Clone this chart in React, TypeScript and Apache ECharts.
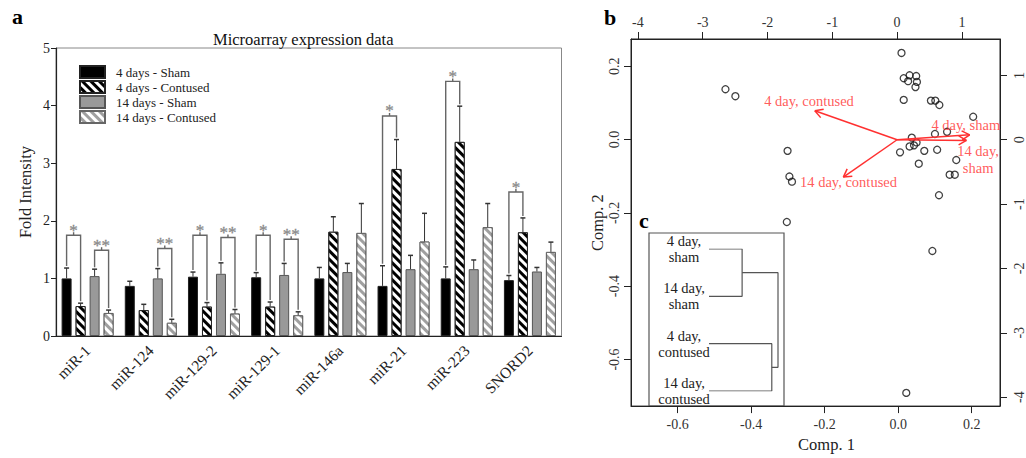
import React, { useEffect, useRef } from 'react';
import * as echarts from 'echarts';

// ---------- Panel a: microarray bars ----------
const categories = ['miR-1', 'miR-124', 'miR-129-2', 'miR-129-1', 'miR-146a', 'miR-21', 'miR-223', 'SNORD2'];
const seriesNames = ['4 days - Sham', '4 days - Contused', '14 days - Sham', '14 days - Contused'];
const sham4 = [1.0, 0.87, 1.03, 1.02, 1.0, 0.87, 1.0, 0.97];
const sham4Err = [1.18, 0.95, 1.11, 1.1, 1.19, 1.22, 1.2, 1.05];
const cont4 = [0.52, 0.45, 0.51, 0.51, 1.81, 2.9, 3.37, 1.8];
const cont4Err = [0.57, 0.55, 0.58, 0.59, 2.07, 3.41, 3.99, 2.05];
const sham14 = [1.04, 1.0, 1.08, 1.06, 1.11, 1.16, 1.16, 1.12];
const sham14Err = [1.16, 1.17, 1.27, 1.26, 1.26, 1.4, 1.32, 1.19];
const cont14 = [0.4, 0.23, 0.39, 0.36, 1.79, 1.64, 1.89, 1.46];
const cont14Err = [0.45, 0.29, 0.46, 0.42, 2.3, 2.13, 2.3, 1.63];
const yTicks = [0, 1, 2, 3, 4, 5];
// significance brackets: category, left bar, right bar, bracket height, label
const sigCat = [0, 0, 1, 2, 2, 3, 3, 5, 6, 7];
const sigLeft = [0, 2, 2, 0, 2, 0, 2, 0, 0, 0];
const sigRight = [1, 3, 3, 1, 3, 1, 3, 1, 1, 1];
const sigHeight = [1.75, 1.49, 1.52, 1.75, 1.71, 1.75, 1.68, 3.82, 4.42, 2.5];
const sigLabel = ['*', '**', '**', '*', '**', '*', '**', '*', '*', '*'];

// ---------- Panel b: PCA biplot ----------
const comp1 = [0.009, 0.015, 0.031, 0.049, 0.027, 0.051, 0.047, 0.015, 0.089, 0.101, 0.112, 0.204, 0.133, 0.1, 0.037, 0.05, 0.031, 0.043, 0.005, 0.071, 0.106, 0.056, 0.158, 0.14, 0.154, 0.111, -0.47, -0.443, -0.301, -0.296, -0.289, -0.303, 0.093, 0.022];
const comp2 = [0.236, 0.167, 0.175, 0.173, 0.159, 0.157, 0.143, 0.108, 0.106, 0.106, 0.094, 0.062, 0.021, 0.015, 0.005, -0.008, -0.019, -0.016, -0.035, -0.031, -0.028, -0.066, -0.056, -0.096, -0.096, -0.152, 0.137, 0.118, -0.031, -0.101, -0.115, -0.225, -0.304, -0.691];
const scoreTicks = [-0.6, -0.4, -0.2, 0.0, 0.2];
const loadingTicks = [-4, -3, -2, -1, 0, 1];
const loadingNames = ['4 day, sham', '14 day,\nsham', '4 day, contused', '14 day, contused'];
const loadX = [1.12, 1.07, -1.27, -0.83];
const loadY = [0.076, -0.01, 0.45, -0.58];
const loadLabelX = [1.06, 1.25, -1.36, -0.75];
const loadLabelY = [0.23, -0.31, 0.61, -0.66];

// ---------- Panel c: dendrogram ----------
const leafLabels = ['4 day,\nsham', '14 day,\nsham', '4 day,\ncontused', '14 day,\ncontused'];
const mergeShamHeight = 0.48;
const mergeContusedHeight = 0.91;
const rootHeight = 1.0;

const SERIF = '"Liberation Serif", "DejaVu Serif", serif';
const RED = '#ff3030';
const BAR_STEP = 14;

const barValues = [sham4, cont4, sham14, cont14];
const barErrs = [sham4Err, cont4Err, sham14Err, cont14Err];

function buildOption() {
  const stripe = (color: string) => ({
    symbol: 'rect',
    color,
    dashArrayX: [1, 0],
    dashArrayY: [2.2, 2.6],
    rotation: Math.PI / 4,
    symbolSize: 1,
  });
  const barStyles = [
    { color: '#000', borderColor: '#222', borderWidth: 1 },
    { color: '#000', borderColor: '#222', borderWidth: 1, decal: stripe('#fff') },
    { color: '#999', borderColor: '#555', borderWidth: 1 },
    { color: '#a0a0a0', borderColor: '#666', borderWidth: 1, decal: stripe('#fff') },
  ];

  const barSeries = seriesNames.map((name, i) => ({
    type: 'bar',
    name,
    xAxisIndex: 0,
    yAxisIndex: 0,
    data: barValues[i],
    barWidth: 10,
    barGap: '40%',
    itemStyle: barStyles[i],
    emphasis: { disabled: true },
    z: 2,
  }));

  const errData: number[][] = [];
  for (let b = 0; b < 4; b++) {
    for (let c = 0; c < categories.length; c++) {
      errData.push([c, b, barValues[b][c], barErrs[b][c]]);
    }
  }

  const sigData = sigCat.map((c, i) => [
    c,
    sigLeft[i],
    sigRight[i],
    barErrs[sigLeft[i]][c],
    barErrs[sigRight[i]][c],
    sigHeight[i],
  ]);

  const scatterData = comp1.map((x, i) => [x, comp2[i]]);
  const arrowData = loadX.map((x, i) => [x, loadY[i]]);
  const arrowLabelData = loadingNames.map((n, i) => ({ name: n, value: [loadLabelX[i], loadLabelY[i]] }));

  const axisLineB = { show: true, onZero: false, lineStyle: { color: '#222' } };

  return {
    animation: false,
    backgroundColor: '#fff',
    title: [
      {
        text: 'Microarray expression data',
        left: 208,
        top: 26,
        textStyle: { fontSize: 16.5, fontWeight: 'normal', fontFamily: SERIF, color: '#111' },
      },
    ],
    legend: {
      data: seriesNames,
      orient: 'vertical',
      left: 74,
      top: 60,
      itemWidth: 25,
      itemHeight: 12,
      itemGap: 1,
      icon: 'rect',
      selectedMode: false,
      textStyle: { fontSize: 13, lineHeight: 12, fontFamily: SERIF, color: '#222', padding: [0, 0, 0, 6] },
    },
    grid: [
      { left: 56, top: 48, width: 505.5, height: 288, show: true, borderColor: '#888', borderWidth: 1, containLabel: false },
      { left: 631, top: 39, width: 373, height: 373, show: true, borderColor: '#222', borderWidth: 1, containLabel: false },
      { left: 709, top: 249, width: 69, height: 142, containLabel: false },
    ],
    xAxis: [
      {
        type: 'category',
        gridIndex: 0,
        data: categories,
        axisLine: { show: true, lineStyle: { color: '#222', width: 1.2 } },
        axisTick: { show: false },
        axisLabel: { rotate: 45, interval: 0, fontSize: 15.5, fontFamily: SERIF, color: '#222', margin: 12 },
        splitLine: { show: false },
      },
      {
        type: 'value',
        gridIndex: 1,
        position: 'bottom',
        min: -0.727,
        max: 0.277,
        name: 'Comp. 1',
        nameLocation: 'middle',
        nameGap: 26,
        nameTextStyle: { fontSize: 16.5, fontFamily: SERIF, color: '#222', padding: [0, 0, 0, 22] },
        axisLine: axisLineB,
        axisTick: { show: true, length: 7, inside: false, customValues: scoreTicks, lineStyle: { color: '#222' } },
        axisLabel: { customValues: scoreTicks, fontSize: 14, fontFamily: SERIF, color: '#333', margin: 11, formatter: (v: number) => v.toFixed(1) },
        splitLine: { show: false },
      },
      {
        type: 'value',
        gridIndex: 1,
        position: 'top',
        min: -4.107,
        max: 1.588,
        axisLine: axisLineB,
        axisTick: { show: true, length: 7, customValues: loadingTicks, lineStyle: { color: '#222' } },
        axisLabel: { customValues: loadingTicks, fontSize: 14, fontFamily: SERIF, color: '#333', margin: 10 },
        splitLine: { show: false },
      },
      {
        type: 'value',
        gridIndex: 2,
        min: 0,
        max: 1,
        show: false,
      },
    ],
    yAxis: [
      {
        type: 'value',
        gridIndex: 0,
        min: 0,
        max: 5,
        interval: 1,
        name: 'Fold Intensity',
        nameLocation: 'middle',
        nameGap: 22,
        nameTextStyle: { fontSize: 16.5, fontFamily: SERIF, color: '#222' },
        axisLine: { show: true, lineStyle: { color: '#222', width: 1.2 } },
        axisTick: { show: true, length: 5, customValues: yTicks, lineStyle: { color: '#222' } },
        axisLabel: { customValues: yTicks, fontSize: 14, fontFamily: SERIF, color: '#222', margin: 6 },
        splitLine: { show: false },
      },
      {
        type: 'value',
        gridIndex: 1,
        position: 'left',
        min: -0.727,
        max: 0.274,
        name: 'Comp. 2',
        nameLocation: 'middle',
        nameGap: 25,
        nameTextStyle: { fontSize: 16.5, fontFamily: SERIF, color: '#222' },
        axisLine: axisLineB,
        axisTick: { show: true, length: 7, customValues: scoreTicks, lineStyle: { color: '#222' } },
        axisLabel: { customValues: scoreTicks, rotate: 90, fontSize: 14, fontFamily: SERIF, color: '#333', margin: 10, formatter: (v: number) => v.toFixed(1) },
        splitLine: { show: false },
      },
      {
        type: 'value',
        gridIndex: 1,
        position: 'right',
        min: -4.14,
        max: 1.566,
        axisLine: axisLineB,
        axisTick: { show: true, length: 7, customValues: loadingTicks, lineStyle: { color: '#222' } },
        axisLabel: { customValues: loadingTicks, rotate: 90, fontSize: 14, fontFamily: SERIF, color: '#333', margin: 12 },
        splitLine: { show: false },
      },
      {
        type: 'value',
        gridIndex: 2,
        min: 0,
        max: 3,
        inverse: true,
        axisLine: { show: false },
        axisTick: { show: false },
        splitLine: { show: false },
        axisLabel: {
          customValues: [0, 1, 2, 3],
          formatter: (v: number) => leafLabels[Math.round(v)],
          align: 'center',
          margin: 25,
          fontSize: 14.5,
          lineHeight: 16,
          fontFamily: SERIF,
          color: '#222',
          padding: [14, 0, 0, 0],
        },
      },
    ],
    series: [
      ...barSeries,
      {
        type: 'custom',
        name: 'errors',
        xAxisIndex: 0,
        yAxisIndex: 0,
        data: errData,
        encode: { x: 0, y: 3 },
        z: 3,
        silent: true,
        renderItem: (params: any, api: any) => {
          const c = api.value(0);
          const b = api.value(1);
          const base = api.coord([c, api.value(2)]);
          const top = api.coord([c, api.value(3)]);
          const x = base[0] + (b - 1.5) * BAR_STEP;
          return {
            type: 'group',
            children: [
              { type: 'line', shape: { x1: x, y1: base[1], x2: x, y2: top[1] }, style: { stroke: '#333', lineWidth: 1 } },
              { type: 'line', shape: { x1: x - 2.5, y1: top[1], x2: x + 2.5, y2: top[1] }, style: { stroke: '#333', lineWidth: 1.5 } },
            ],
          };
        },
      },
      {
        type: 'custom',
        name: 'significance',
        xAxisIndex: 0,
        yAxisIndex: 0,
        data: sigData,
        encode: { x: 0, y: 5 },
        z: 3,
        silent: true,
        renderItem: (params: any, api: any) => {
          const c = api.value(0);
          const lb = api.value(1);
          const rb = api.value(2);
          const center = api.coord([c, 0])[0];
          const xl = center + (lb - 1.5) * BAR_STEP;
          const xr = center + (rb - 1.5) * BAR_STEP;
          const yl = api.coord([c, api.value(3)])[1] - 2;
          const yr = api.coord([c, api.value(4)])[1] - 2;
          const yh = api.coord([c, api.value(5)])[1];
          const mid = (xl + xr) / 2;
          return {
            type: 'group',
            children: [
              {
                type: 'polyline',
                shape: { points: [[xl, yl], [xl, yh], [xr, yh], [xr, yr]] },
                style: { stroke: '#666', lineWidth: 1.4, fill: 'none' },
              },
              { type: 'line', shape: { x1: mid, y1: yh, x2: mid, y2: yh - 3 }, style: { stroke: '#666', lineWidth: 1.4 } },
              {
                type: 'text',
                style: {
                  text: sigLabel[params.dataIndex],
                  x: mid,
                  y: yh - 5,
                  align: 'center',
                  verticalAlign: 'middle',
                  font: '17px ' + SERIF,
                  fill: '#888',
                  stroke: '#888',
                  lineWidth: 0.3,
                },
              },
            ],
          };
        },
      },
      {
        type: 'scatter',
        name: 'scores',
        xAxisIndex: 1,
        yAxisIndex: 1,
        data: scatterData,
        symbol: 'circle',
        symbolSize: 7,
        itemStyle: { color: 'rgba(0,0,0,0)', borderColor: '#111', borderWidth: 1.3 },
        emphasis: { disabled: true },
        silent: true,
        z: 2,
      },
      {
        type: 'custom',
        name: 'loadings',
        xAxisIndex: 2,
        yAxisIndex: 2,
        data: arrowData,
        encode: { x: 0, y: 1 },
        z: 4,
        silent: true,
        renderItem: (params: any, api: any) => {
          const p0 = api.coord([0, 0]);
          const p1 = api.coord([api.value(0), api.value(1)]);
          const a = Math.atan2(p1[1] - p0[1], p1[0] - p0[0]);
          const L = 9;
          const h1 = [p1[0] - L * Math.cos(a - Math.PI / 6), p1[1] - L * Math.sin(a - Math.PI / 6)];
          const h2 = [p1[0] - L * Math.cos(a + Math.PI / 6), p1[1] - L * Math.sin(a + Math.PI / 6)];
          const st = { stroke: RED, lineWidth: 1.5 };
          return {
            type: 'group',
            children: [
              { type: 'line', shape: { x1: p0[0], y1: p0[1], x2: p1[0], y2: p1[1] }, style: st },
              { type: 'line', shape: { x1: p1[0], y1: p1[1], x2: h1[0], y2: h1[1] }, style: st },
              { type: 'line', shape: { x1: p1[0], y1: p1[1], x2: h2[0], y2: h2[1] }, style: st },
            ],
          };
        },
      },
      {
        type: 'scatter',
        name: 'loading labels',
        xAxisIndex: 2,
        yAxisIndex: 2,
        data: arrowLabelData,
        symbolSize: 0,
        silent: true,
        z: 5,
        label: {
          show: true,
          position: 'inside',
          formatter: '{b}',
          color: RED,
          fontSize: 14.5,
          lineHeight: 17,
          fontFamily: SERIF,
          align: 'center',
        },
      },
      {
        type: 'line',
        name: 'dendro sham',
        xAxisIndex: 3,
        yAxisIndex: 3,
        data: [[0, 0], [mergeShamHeight, 0], [mergeShamHeight, 1], [0, 1]],
        symbol: 'none',
        lineStyle: { color: '#555', width: 1.2 },
        silent: true,
      },
      {
        type: 'line',
        name: 'dendro contused',
        xAxisIndex: 3,
        yAxisIndex: 3,
        data: [[0, 2], [mergeContusedHeight, 2], [mergeContusedHeight, 3], [0, 3]],
        symbol: 'none',
        lineStyle: { color: '#555', width: 1.2 },
        silent: true,
      },
      {
        type: 'line',
        name: 'dendro root',
        xAxisIndex: 3,
        yAxisIndex: 3,
        data: [[mergeShamHeight, 0.5], [rootHeight, 0.5], [rootHeight, 2.5], [mergeContusedHeight, 2.5]],
        symbol: 'none',
        lineStyle: { color: '#555', width: 1.2 },
        silent: true,
      },
    ],
    graphic: [
      { type: 'text', x: 12, y: 16, style: { text: 'a', font: 'bold 22px ' + SERIF, fill: '#000', verticalAlign: 'middle' } },
      { type: 'text', x: 604, y: 17, style: { text: 'b', font: 'bold 22px ' + SERIF, fill: '#000', verticalAlign: 'middle' } },
      { type: 'text', x: 639, y: 220, style: { text: 'c', font: 'bold 22px ' + SERIF, fill: '#000', verticalAlign: 'middle' } },
      { type: 'rect', shape: { x: 649, y: 233, width: 135, height: 173 }, style: { fill: 'none', stroke: '#555', lineWidth: 1.2 } },
    ],
  };
}

export default function App() {
  const ref = useRef<HTMLDivElement>(null);
  useEffect(() => {
    document.body.style.margin = '0';
    const chart = echarts.init(ref.current as HTMLDivElement, null, { renderer: 'svg' });
    chart.setOption(buildOption() as any);
    return () => chart.dispose();
  }, []);
  return <div ref={ref} style={{ width: 1026, height: 458 }} />;
}
